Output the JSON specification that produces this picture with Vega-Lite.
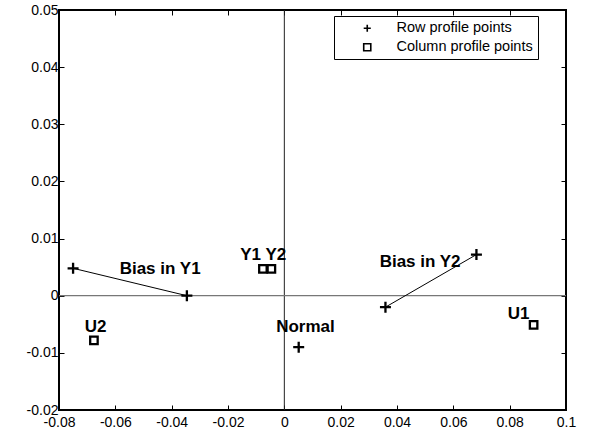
{
  "$schema": "https://vega.github.io/schema/vega-lite/v6.json",
  "width": 507,
  "height": 400,
  "autosize": {"type": "none"},
  "padding": {"left": 59, "top": 10, "right": 24, "bottom": 26},
  "background": "white",
  "config": {
    "font": "Liberation Sans",
    "view": {"stroke": "black", "strokeWidth": 2},
    "axis": {"domain": false, "grid": false, "tickColor": "black", "tickSize": -5, "tickWidth": 1, "labelFontSize": 14, "labelColor": "black", "labelFont": "Liberation Sans", "title": null, "labelFlush": false}
  },
  "datasets": {
    "points": [
      {"name": "Bias in Y1", "kind": "Row profile points", "x": -0.075, "y": 0.0048},
      {"name": "Bias in Y1", "kind": "Row profile points", "x": -0.0346, "y": 0.0},
      {"name": "Bias in Y2", "kind": "Row profile points", "x": 0.0359, "y": -0.002},
      {"name": "Bias in Y2", "kind": "Row profile points", "x": 0.0682, "y": 0.0072},
      {"name": "Normal", "kind": "Row profile points", "x": 0.0051, "y": -0.009},
      {"name": "U2", "kind": "Column profile points", "x": -0.0676, "y": -0.0078},
      {"name": "Y1", "kind": "Column profile points", "x": -0.0076, "y": 0.0047},
      {"name": "Y2", "kind": "Column profile points", "x": -0.0046, "y": 0.0047},
      {"name": "U1", "kind": "Column profile points", "x": 0.0885, "y": -0.0051}
    ],
    "labels": [
      {"text": "Bias in Y1", "x": -0.0441, "y": 0.0047},
      {"text": "U2", "x": -0.067, "y": -0.0055},
      {"text": "Y1 Y2", "x": -0.0075, "y": 0.0071},
      {"text": "Normal", "x": 0.0075, "y": -0.0055},
      {"text": "Bias in Y2", "x": 0.0482, "y": 0.0059},
      {"text": "U1", "x": 0.0832, "y": -0.0032}
    ],
    "zero": [{"v": 0}]
  },
  "layer": [
    {
      "data": {"name": "zero"},
      "mark": {"type": "rule", "color": "#222222", "strokeWidth": 1},
      "encoding": {
        "x": {"field": "v", "type": "quantitative", "scale": {"domain": [-0.08, 0.1], "nice": false, "zero": false},
              "axis": {"orient": "top", "labels": false, "values": [-0.08, -0.06, -0.04, -0.02, 0, 0.02, 0.04, 0.06, 0.08, 0.1]}}
      }
    },
    {
      "data": {"name": "zero"},
      "mark": {"type": "rule", "color": "#777777", "strokeWidth": 1.3},
      "encoding": {
        "y": {"field": "v", "type": "quantitative", "scale": {"domain": [-0.02, 0.05], "nice": false, "zero": false},
              "axis": {"orient": "right", "labels": false, "values": [-0.02, -0.01, 0, 0.01, 0.02, 0.03, 0.04, 0.05]}}
      }
    },
    {
      "data": {"name": "points"},
      "transform": [{"filter": "datum.kind === 'Row profile points' && datum.name !== 'Normal'"}],
      "mark": {"type": "line", "color": "black", "strokeWidth": 1},
      "encoding": {
        "x": {"field": "x", "type": "quantitative", "axis": null},
        "y": {"field": "y", "type": "quantitative", "axis": null},
        "detail": {"field": "name"}
      }
    },
    {
      "data": {"name": "points"},
      "mark": {"type": "point", "filled": false, "color": "black", "strokeWidth": 2.3, "opacity": 1},
      "encoding": {
        "x": {"field": "x", "type": "quantitative",
              "axis": {"orient": "bottom", "labelPadding": 10, "values": [-0.08, -0.06, -0.04, -0.02, 0, 0.02, 0.04, 0.06, 0.08, 0.1], "labelExpr": "'' + datum.value"}},
        "y": {"field": "y", "type": "quantitative",
              "axis": {"orient": "left", "labelPadding": 6, "values": [-0.02, -0.01, 0, 0.01, 0.02, 0.03, 0.04, 0.05], "labelExpr": "'' + datum.value"}},
        "shape": {"field": "kind", "type": "nominal",
                  "scale": {"domain": ["Row profile points", "Column profile points"], "range": ["M-1,0H1M0,-1V1", "square"]},
                  "legend": {"orient": "none", "legendX": 275, "legendY": 6, "title": null, "strokeColor": "black", "fillColor": "white",
                             "padding": 5, "symbolOffset": 21, "labelOffset": 22, "labelFontSize": 14.5, "labelFont": "Liberation Sans", "labelColor": "black",
                             "symbolSize": 50, "symbolStrokeWidth": 1.6, "symbolStrokeColor": "black", "symbolFillColor": "transparent", "rowPadding": 4, "labelLimit": 300}},
        "size": {"condition": {"test": "datum.kind === 'Row profile points'", "value": 121}, "value": 56}
      }
    },
    {
      "data": {"name": "labels"},
      "mark": {"type": "text", "font": "Liberation Sans", "fontWeight": "bold", "fontSize": 17, "color": "black", "align": "center", "baseline": "middle"},
      "encoding": {
        "x": {"field": "x", "type": "quantitative", "axis": null},
        "y": {"field": "y", "type": "quantitative", "axis": null},
        "text": {"field": "text"}
      }
    }
  ],
  "resolve": {"axis": {"x": "independent", "y": "independent"}}
}
